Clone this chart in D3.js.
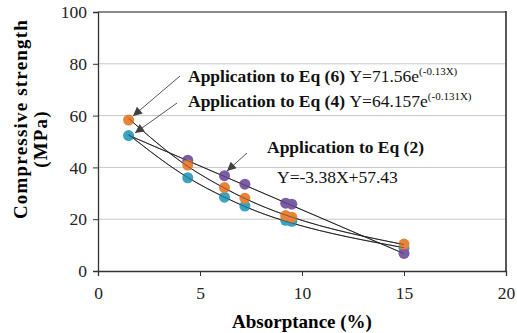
<!DOCTYPE html>
<html>
<head>
<meta charset="utf-8">
<script src="https://cdn.jsdelivr.net/npm/d3@7"></script>
<style>
  body { margin: 0; background: #fff; }
  svg { display: block; font-family: "Liberation Serif", "Times New Roman", serif; }
</style>
</head>
<body>
<script>
// measured absorptance values (%)
var absorb = [1.5, 4.4, 6.2, 7.2, 9.2, 9.5, 15];

// measured strengths per series
var tealVals = [52.3, 36.0, 28.5, 25.1, 19.6, 19.2, 8.8];
var orangeVals = [58.3, 40.9, 32.2, 28.1, 21.4, 20.8, 10.4];
var purpleX = [4.4, 6.2, 7.2, 9.2, 9.5, 15];
var purpleVals = [42.8, 36.8, 33.5, 26.2, 25.8, 6.8];

// fitted lines
var fitTeal = [52.7, 36.1, 28.5, 24.9, 19.2, 18.5, 9.0];
var fitOrange = [58.9, 40.4, 32.0, 28.0, 21.6, 20.8, 10.2];
var fitLinearX = [1.5, 15];
var fitLinear = [52.4, 6.7];

var xTicks = [0, 5, 10, 15, 20];
var yTicks = [0, 20, 40, 60, 80, 100];

// chart size
var w = 517;
var h = 333;
var padLeft = 98, padRight = 506, padTop = 12, padBottom = 271;

var colTeal = "#3aa3c0";
var colOrange = "#e8843a";
var colPurple = "#7b5ca6";

var xScale = d3.scaleLinear().domain([0, 20]).range([padLeft, padRight]);
var yScale = d3.scaleLinear().domain([0, 100]).range([padBottom, padTop]);

var svg = d3.select("body").append("svg")
            .attr("width", w)
            .attr("height", h);

// arrow marker
svg.append("defs").append("marker")
   .attr("id", "arrow")
   .attr("viewBox", "0 0 10 10")
   .attr("refX", 10).attr("refY", 5)
   .attr("markerWidth", 11).attr("markerHeight", 9)
   .attr("markerUnits", "userSpaceOnUse")
   .attr("orient", "auto")
   .append("path")
   .attr("d", "M0,0 L10,5 L0,10 z")
   .attr("fill", "#404040");

// grid lines
svg.append("g").selectAll("line")
   .data(yTicks.slice(1, -1))
   .enter().append("line")
   .attr("x1", padLeft).attr("x2", padRight)
   .attr("y1", function(d) { return yScale(d); })
   .attr("y2", function(d) { return yScale(d); })
   .attr("stroke", "#c8c8c8")
   .attr("stroke-width", 1);

// top and right frame
svg.append("line")
   .attr("x1", padLeft).attr("x2", padRight)
   .attr("y1", yScale(100)).attr("y2", yScale(100))
   .attr("stroke", "#8a8a8a").attr("stroke-width", 2);
svg.append("line")
   .attr("x1", padRight).attr("x2", padRight)
   .attr("y1", yScale(100) - 1).attr("y2", padBottom)
   .attr("stroke", "#222").attr("stroke-width", 1.5);

// axes
var xAxis = d3.axisBottom(xScale).tickValues(xTicks).tickSize(5).tickPadding(6);
var yAxis = d3.axisLeft(yScale).tickValues(yTicks).tickSize(5).tickPadding(6);

var gx = svg.append("g")
   .attr("transform", "translate(0," + padBottom + ")")
   .call(xAxis);
var gy = svg.append("g")
   .attr("transform", "translate(" + padLeft + ",0)")
   .call(yAxis);

[gx, gy].forEach(function(g) {
  g.select(".domain").attr("stroke", "#333").attr("stroke-width", 1.3);
  g.selectAll(".tick line").attr("stroke", "#333");
  g.selectAll(".tick text")
   .attr("fill", "#222")
   .style("font-family", "Liberation Serif")
   .style("font-size", "17.5px");
});
gx.selectAll(".tick text").attr("dy", "0.95em");

// fitted lines
var line = d3.line()
             .x(function(d) { return xScale(d[0]); })
             .y(function(d) { return yScale(d[1]); })
             .curve(d3.curveMonotoneX);

var fits = [
  d3.zip(absorb, fitTeal),
  d3.zip(absorb, fitOrange),
  d3.zip(fitLinearX, fitLinear)
];
svg.append("g").selectAll("path")
   .data(fits)
   .enter().append("path")
   .attr("d", line)
   .attr("fill", "none")
   .attr("stroke", "#222")
   .attr("stroke-width", 1);

// points
function drawPoints(xs, ys, col) {
  svg.append("g").selectAll("circle")
     .data(d3.zip(xs, ys))
     .enter().append("circle")
     .attr("cx", function(d) { return xScale(d[0]); })
     .attr("cy", function(d) { return yScale(d[1]); })
     .attr("r", 5.5)
     .attr("fill", col);
}
drawPoints(absorb, tealVals, colTeal);
drawPoints(purpleX, purpleVals, colPurple);
drawPoints(absorb, orangeVals, colOrange);

// redraw lines lightly over points
svg.append("g").selectAll("path")
   .data(fits)
   .enter().append("path")
   .attr("d", line)
   .attr("fill", "none")
   .attr("stroke", "#222")
   .attr("stroke-width", 0.8)
   .attr("opacity", 0.6);

// arrows
var arrows = [[180, 76, 133, 116], [177, 103, 135, 133], [247, 153, 227, 171]];
svg.append("g").selectAll("line")
   .data(arrows)
   .enter().append("line")
   .attr("x1", function(d) { return d[0]; })
   .attr("y1", function(d) { return d[1]; })
   .attr("x2", function(d) { return d[2]; })
   .attr("y2", function(d) { return d[3]; })
   .attr("stroke", "#555")
   .attr("stroke-width", 1)
   .attr("marker-end", "url(#arrow)");

// equation labels
function eqLabel(x, y, bold, reg, sup) {
  var t = svg.append("text")
             .attr("x", x).attr("y", y)
             .style("font-size", "17.5px")
             .attr("fill", "#111");
  t.append("tspan").style("font-weight", "bold").text(bold);
  if (reg) t.append("tspan").text(reg);
  if (sup) t.append("tspan").attr("dy", -7).style("font-size", "11px").text(sup);
}
eqLabel(188, 82, "Application to Eq (6) ", "Y=71.56e", "(-0.13X)");
eqLabel(188, 107, "Application to Eq (4) ", "Y=64.157e", "(-0.131X)");
eqLabel(267, 153, "Application to Eq (2)", null, null);
svg.append("text")
   .attr("x", 277).attr("y", 183)
   .style("font-size", "17.5px")
   .attr("fill", "#111")
   .text("Y=-3.38X+57.43");

// axis titles
svg.append("text")
   .attr("x", (padLeft + padRight) / 2).attr("y", 328)
   .attr("text-anchor", "middle")
   .style("font-size", "19px")
   .style("font-weight", "bold")
   .text("Absorptance (%)");

svg.append("text")
   .attr("transform", "translate(27,119) rotate(-90)")
   .attr("text-anchor", "middle")
   .style("font-size", "19px")
   .style("font-weight", "bold")
   .style("letter-spacing", "1.2px")
   .text("Compressive strength");
svg.append("text")
   .attr("transform", "translate(47,139) rotate(-90)")
   .attr("text-anchor", "middle")
   .style("font-size", "19px")
   .style("font-weight", "bold")
   .style("letter-spacing", "1.2px")
   .text("(MPa)");
</script>
</body>
</html>
